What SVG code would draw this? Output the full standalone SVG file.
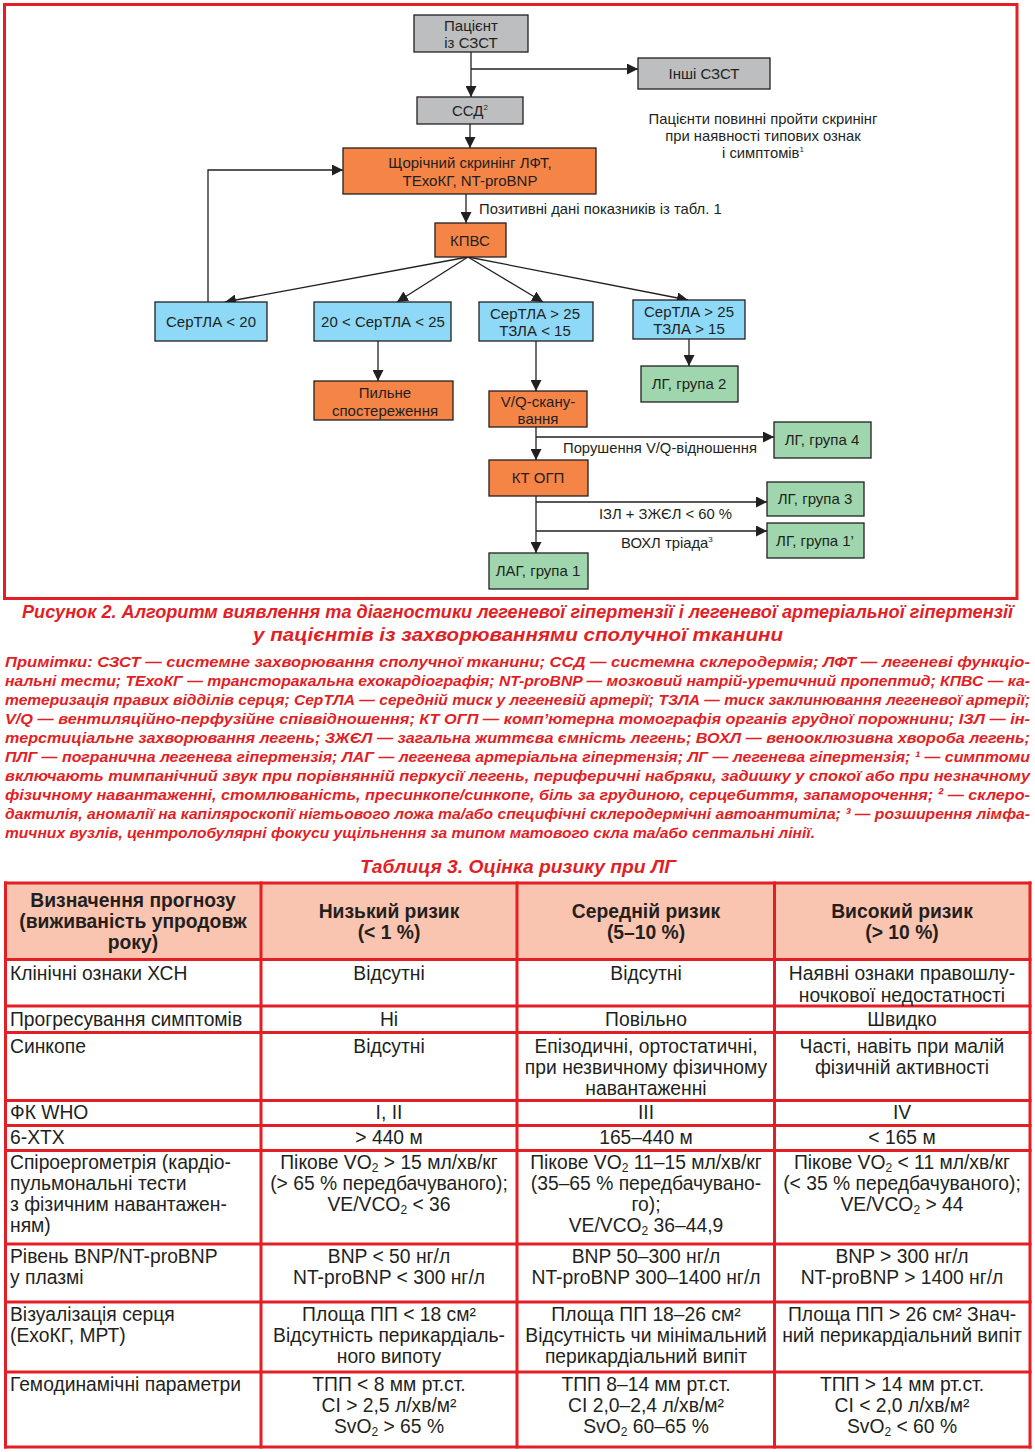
<svg xmlns="http://www.w3.org/2000/svg" width="1035" height="1452" viewBox="0 0 1035 1452">
<defs>
<marker id="arr" markerUnits="userSpaceOnUse" markerWidth="11" markerHeight="11" viewBox="0 0 10 10" refX="10" refY="5" orient="auto">
<path d="M0,0 L10,5 L0,10 z" fill="#231f20"/>
</marker>
<style>
text{font-family:"Liberation Sans",Arial,sans-serif;fill:#231f20}
.n rect{stroke:#231f20;stroke-width:1.3}
.n text{font-size:15px;text-anchor:middle}
.gray{fill:#bcbec0}
.orange{fill:#f58447}
.blue{fill:#8dd9f7}
.green{fill:#9fd6ad}
.lbl{font-size:14.8px}
#connectors line,#connectors polyline{stroke:#231f20;stroke-width:1.3;fill:none;marker-end:url(#arr)}
.red{fill:#e31e24;font-weight:bold;font-style:italic}
.cap{font-size:18.5px}
.note{font-size:15.5px}
.t{font-size:19.3px}
.tc{text-anchor:middle}
.th{font-weight:bold}
.grid line{stroke:#e31e24;stroke-width:3}
.sub{font-size:12px}
</style>
</defs>
<rect width="1035" height="1452" fill="#ffffff"/>
<rect x="4.5" y="4.5" width="1012.5" height="594" fill="none" stroke="#e31e24" stroke-width="3"/>

<g id="connectors">
<line x1="471" y1="52" x2="471" y2="97"/>
<line x1="471" y1="69" x2="638" y2="69"/>
<line x1="470" y1="124" x2="470" y2="148"/>
<line x1="466" y1="194" x2="466" y2="223"/>
<line x1="468" y1="257" x2="225" y2="302"/>
<line x1="468" y1="257" x2="397" y2="302"/>
<line x1="468" y1="257" x2="543" y2="302"/>
<line x1="468" y1="257" x2="688" y2="300"/>
<polyline points="208,302 208,170 343,170"/>
<line x1="378" y1="341" x2="378" y2="381"/>
<line x1="536" y1="341" x2="536" y2="391"/>
<line x1="689" y1="339" x2="689" y2="366"/>
<line x1="536" y1="427" x2="536" y2="460"/>
<line x1="536" y1="437" x2="774" y2="437"/>
<line x1="536" y1="496" x2="536" y2="553"/>
<line x1="536" y1="502" x2="767" y2="502"/>
<line x1="536" y1="531" x2="767" y2="531"/>
<text class="lbl" x="479" y="214">Позитивні дані показників із табл. 1</text>
<text class="lbl" x="563" y="453">Порушення V/Q-відношення</text>
<text class="lbl" x="599" y="519">ІЗЛ + ЗЖЄЛ &lt; 60 %</text>
<text class="lbl" x="621" y="548">ВОХЛ тріада<tspan font-size="8" dy="-6">3</tspan></text>
</g>

<g id="n-patient" class="n"><rect class="gray" x="414" y="15" width="114" height="37"/><text x="471" y="31">Пацієнт</text><text x="471" y="48">із СЗСТ</text></g>
<g id="n-other" class="n"><rect class="gray" x="638" y="58" width="132" height="31"/><text x="704" y="79">Інші СЗСТ</text></g>
<g id="n-ssd" class="n"><rect class="gray" x="417" y="97" width="106" height="27"/><text x="470" y="116">ССД<tspan font-size="8" dy="-6">2</tspan></text></g>
<g id="n-screen" class="n"><rect class="orange" x="343" y="148" width="253" height="46"/><text x="470" y="168">Щорічний скринінг ЛФТ,</text><text x="470" y="186">ТЕхоКГ, NT-proBNP</text></g>
<g id="n-kpvs" class="n"><rect class="orange" x="435" y="223" width="71" height="34"/><text x="470" y="246">КПВС</text></g>
<g id="n-b1" class="n"><rect class="blue" x="155" y="302" width="112" height="39"/><text x="211" y="327">СерТЛА &lt; 20</text></g>
<g id="n-b2" class="n"><rect class="blue" x="314" y="302" width="137" height="39"/><text x="383" y="327">20 &lt; СерТЛА &lt; 25</text></g>
<g id="n-b3" class="n"><rect class="blue" x="479" y="302" width="114" height="39"/><text x="535" y="319">СерТЛА &gt; 25</text><text x="535" y="336">ТЗЛА &lt; 15</text></g>
<g id="n-b4" class="n"><rect class="blue" x="633" y="300" width="112" height="39"/><text x="689" y="317">СерТЛА &gt; 25</text><text x="689" y="334">ТЗЛА &gt; 15</text></g>
<g id="n-watch" class="n"><rect class="orange" x="314" y="381" width="139" height="39"/><text x="385" y="398">Пильне</text><text x="385" y="416">спостереження</text></g>
<g id="n-lg2" class="n"><rect class="green" x="641" y="366" width="97" height="36"/><text x="689" y="389">ЛГ, група 2</text></g>
<g id="n-vq" class="n"><rect class="orange" x="489" y="391" width="98" height="36"/><text x="538" y="407">V/Q-скану-</text><text x="538" y="424">вання</text></g>
<g id="n-lg4" class="n"><rect class="green" x="774" y="422" width="97" height="36"/><text x="822" y="445">ЛГ, група 4</text></g>
<g id="n-kt" class="n"><rect class="orange" x="489" y="460" width="99" height="36"/><text x="538" y="483">КТ ОГП</text></g>
<g id="n-lg3" class="n"><rect class="green" x="767" y="482" width="97" height="34"/><text x="815" y="504">ЛГ, група 3</text></g>
<g id="n-lg1p" class="n"><rect class="green" x="767" y="523" width="97" height="35"/><text x="815" y="546">ЛГ, група 1’</text></g>
<g id="n-lag" class="n"><rect class="green" x="489" y="553" width="99" height="36"/><text x="538" y="576">ЛАГ, група 1</text></g>

<g id="note-screen">
<text class="lbl" x="763" y="124" text-anchor="middle">Пацієнти повинні пройти скринінг</text>
<text class="lbl" x="763" y="141" text-anchor="middle">при наявності типових ознак</text>
<text class="lbl" x="763" y="158" text-anchor="middle">і симптомів<tspan font-size="8" dy="-6">1</tspan></text>
</g>

<g id="caption">
<text class="red cap" x="22" y="618" textLength="991" lengthAdjust="spacingAndGlyphs">Рисунок 2. Алгоритм виявлення та діагностики легеневої гіпертензії і легеневої артеріальної гіпертензії</text>
<text class="red cap" x="253" y="641" textLength="530" lengthAdjust="spacingAndGlyphs">у пацієнтів із захворюваннями сполучної тканини</text>
</g>

<g id="notes">
<text class="red note" x="5" y="667" textLength="1025" lengthAdjust="spacingAndGlyphs">Примітки: СЗСТ — системне захворювання сполучної тканини; ССД — системна склеродермія; ЛФТ — легеневі функціо-</text>
<text class="red note" x="5" y="686" textLength="1025" lengthAdjust="spacingAndGlyphs">нальні тести; ТЕхоКГ — трансторакальна ехокардіографія; NT-proBNP — мозковий натрій-уретичний пропептид; КПВС — ка-</text>
<text class="red note" x="5" y="705" textLength="1025" lengthAdjust="spacingAndGlyphs">тетеризація правих відділів серця; СерТЛА — середній тиск у легеневій артерії; ТЗЛА — тиск заклинювання легеневої артерії;</text>
<text class="red note" x="5" y="724" textLength="1025" lengthAdjust="spacingAndGlyphs">V/Q — вентиляційно-перфузійне співвідношення; КТ ОГП — комп’ютерна томографія органів грудної порожнини; ІЗЛ — ін-</text>
<text class="red note" x="5" y="743" textLength="1025" lengthAdjust="spacingAndGlyphs">терстиціальне захворювання легень; ЗЖЄЛ — загальна життєва ємність легень; ВОХЛ — венооклюзивна хвороба легень;</text>
<text class="red note" x="5" y="762" textLength="1025" lengthAdjust="spacingAndGlyphs">ПЛГ — погранична легенева гіпертензія; ЛАГ — легенева артеріальна гіпертензія; ЛГ — легенева гіпертензія; ¹ — симптоми</text>
<text class="red note" x="5" y="781" textLength="1025" lengthAdjust="spacingAndGlyphs">включають тимпанічний звук при порівнянній перкусії легень, периферичні набряки, задишку у спокої або при незначному</text>
<text class="red note" x="5" y="800" textLength="1025" lengthAdjust="spacingAndGlyphs">фізичному навантаженні, стомлюваність, пресинкопе/синкопе, біль за грудиною, серцебиття, запаморочення; ² — склеро-</text>
<text class="red note" x="5" y="819" textLength="1025" lengthAdjust="spacingAndGlyphs">дактилія, аномалії на капіляроскопії нігтьового ложа та/або специфічні склеродермічні автоантитіла; ³ — розширення лімфа-</text>
<text class="red note" x="5" y="838" textLength="810" lengthAdjust="spacingAndGlyphs">тичних вузлів, центролобулярні фокуси ущільнення за типом матового скла та/або септальні лінії.</text>
</g>

<g id="table-title"><text class="red cap" x="518" y="873" text-anchor="middle" textLength="316" lengthAdjust="spacingAndGlyphs">Таблиця 3. Оцінка ризику при ЛГ</text></g>

<g id="table">
<rect x="5.5" y="883" width="1024.5" height="76.5" fill="#f9c5b0"/>
<g class="grid">
<line x1="4" y1="883" x2="1031.5" y2="883"/>
<line x1="4" y1="959.5" x2="1031.5" y2="959.5"/>
<line x1="4" y1="1006" x2="1031.5" y2="1006"/>
<line x1="4" y1="1032.5" x2="1031.5" y2="1032.5"/>
<line x1="4" y1="1100.5" x2="1031.5" y2="1100.5"/>
<line x1="4" y1="1125.5" x2="1031.5" y2="1125.5"/>
<line x1="4" y1="1150.5" x2="1031.5" y2="1150.5"/>
<line x1="4" y1="1244" x2="1031.5" y2="1244"/>
<line x1="4" y1="1302" x2="1031.5" y2="1302"/>
<line x1="4" y1="1372" x2="1031.5" y2="1372"/>
<line x1="4" y1="1447" x2="1031.5" y2="1447"/>
<line x1="5.5" y1="881.5" x2="5.5" y2="1448.5"/>
<line x1="261" y1="881.5" x2="261" y2="1448.5"/>
<line x1="517" y1="881.5" x2="517" y2="1448.5"/>
<line x1="774.5" y1="881.5" x2="774.5" y2="1448.5"/>
<line x1="1030" y1="881.5" x2="1030" y2="1448.5"/>
</g>

<text class="t th tc" x="133" y="907">Визначення прогнозу</text>
<text class="t th tc" x="133" y="928">(виживаність упродовж</text>
<text class="t th tc" x="133" y="949">року)</text>
<text class="t th tc" x="389" y="918">Низький ризик</text>
<text class="t th tc" x="389" y="939">(&lt; 1 %)</text>
<text class="t th tc" x="646" y="918">Середній ризик</text>
<text class="t th tc" x="646" y="939">(5–10 %)</text>
<text class="t th tc" x="902" y="918">Високий ризик</text>
<text class="t th tc" x="902" y="939">(&gt; 10 %)</text>

<text class="t" x="10" y="980">Клінічні ознаки ХСН</text>
<text class="t tc" x="389" y="980">Відсутні</text>
<text class="t tc" x="646" y="980">Відсутні</text>
<text class="t tc" x="902" y="980">Наявні ознаки правошлу-</text>
<text class="t tc" x="902" y="1002">ночкової недостатності</text>

<text class="t" x="10" y="1026">Прогресування симптомів</text>
<text class="t tc" x="389" y="1026">Ні</text>
<text class="t tc" x="646" y="1026">Повільно</text>
<text class="t tc" x="902" y="1026">Швидко</text>

<text class="t" x="10" y="1053">Синкопе</text>
<text class="t tc" x="389" y="1053">Відсутні</text>
<text class="t tc" x="646" y="1053">Епізодичні, ортостатичні,</text>
<text class="t tc" x="646" y="1074">при незвичному фізичному</text>
<text class="t tc" x="646" y="1095">навантаженні</text>
<text class="t tc" x="902" y="1053">Часті, навіть при малій</text>
<text class="t tc" x="902" y="1074">фізичній активності</text>

<text class="t" x="10" y="1119">ФК WHO</text>
<text class="t tc" x="389" y="1119">I, II</text>
<text class="t tc" x="646" y="1119">III</text>
<text class="t tc" x="902" y="1119">IV</text>

<text class="t" x="10" y="1144">6-ХТХ</text>
<text class="t tc" x="389" y="1144">&gt; 440 м</text>
<text class="t tc" x="646" y="1144">165–440 м</text>
<text class="t tc" x="902" y="1144">&lt; 165 м</text>

<text class="t" x="10" y="1169">Спіроергометрія (кардіо-</text>
<text class="t" x="10" y="1190">пульмональні тести</text>
<text class="t" x="10" y="1211">з фізичним навантажен-</text>
<text class="t" x="10" y="1232">ням)</text>
<text class="t tc" x="389" y="1169">Пікове VO<tspan class="sub" dy="3">2</tspan><tspan dy="-3"> &gt; 15 мл/хв/кг</tspan></text>
<text class="t tc" x="389" y="1190">(&gt; 65 % передбачуваного);</text>
<text class="t tc" x="389" y="1211">VE/VCO<tspan class="sub" dy="3">2</tspan><tspan dy="-3"> &lt; 36</tspan></text>
<text class="t tc" x="646" y="1169">Пікове VO<tspan class="sub" dy="3">2</tspan><tspan dy="-3"> 11–15 мл/хв/кг</tspan></text>
<text class="t tc" x="646" y="1190">(35–65 % передбачувано-</text>
<text class="t tc" x="646" y="1211">го);</text>
<text class="t tc" x="646" y="1232">VE/VCO<tspan class="sub" dy="3">2</tspan><tspan dy="-3"> 36–44,9</tspan></text>
<text class="t tc" x="902" y="1169">Пікове VO<tspan class="sub" dy="3">2</tspan><tspan dy="-3"> &lt; 11 мл/хв/кг</tspan></text>
<text class="t tc" x="902" y="1190">(&lt; 35 % передбачуваного);</text>
<text class="t tc" x="902" y="1211">VE/VCO<tspan class="sub" dy="3">2</tspan><tspan dy="-3"> &gt; 44</tspan></text>

<text class="t" x="10" y="1263">Рівень BNP/NT-proBNP</text>
<text class="t" x="10" y="1284">у плазмі</text>
<text class="t tc" x="389" y="1263">BNP &lt; 50 нг/л</text>
<text class="t tc" x="389" y="1284">NT-proBNP &lt; 300 нг/л</text>
<text class="t tc" x="646" y="1263">BNP 50–300 нг/л</text>
<text class="t tc" x="646" y="1284">NT-proBNP 300–1400 нг/л</text>
<text class="t tc" x="902" y="1263">BNP &gt; 300 нг/л</text>
<text class="t tc" x="902" y="1284">NT-proBNP &gt; 1400 нг/л</text>

<text class="t" x="10" y="1321">Візуалізація серця</text>
<text class="t" x="10" y="1342">(ЕхоКГ, МРТ)</text>
<text class="t tc" x="389" y="1321">Площа ПП &lt; 18 см²</text>
<text class="t tc" x="389" y="1342">Відсутність перикардіаль-</text>
<text class="t tc" x="389" y="1363">ного випоту</text>
<text class="t tc" x="646" y="1321">Площа ПП 18–26 см²</text>
<text class="t tc" x="646" y="1342">Відсутність чи мінімальний</text>
<text class="t tc" x="646" y="1363">перикардіальний випіт</text>
<text class="t tc" x="902" y="1321">Площа ПП &gt; 26 см² Знач-</text>
<text class="t tc" x="902" y="1342">ний перикардіальний випіт</text>

<text class="t" x="10" y="1391">Гемодинамічні параметри</text>
<text class="t tc" x="389" y="1391">ТПП &lt; 8 мм рт.ст.</text>
<text class="t tc" x="389" y="1412">CI &gt; 2,5 л/хв/м²</text>
<text class="t tc" x="389" y="1433">SvO<tspan class="sub" dy="3">2</tspan><tspan dy="-3"> &gt; 65 %</tspan></text>
<text class="t tc" x="646" y="1391">ТПП 8–14 мм рт.ст.</text>
<text class="t tc" x="646" y="1412">CI 2,0–2,4 л/хв/м²</text>
<text class="t tc" x="646" y="1433">SvO<tspan class="sub" dy="3">2</tspan><tspan dy="-3"> 60–65 %</tspan></text>
<text class="t tc" x="902" y="1391">ТПП &gt; 14 мм рт.ст.</text>
<text class="t tc" x="902" y="1412">CI &lt; 2,0 л/хв/м²</text>
<text class="t tc" x="902" y="1433">SvO<tspan class="sub" dy="3">2</tspan><tspan dy="-3"> &lt; 60 %</tspan></text>
</g>
</svg>
